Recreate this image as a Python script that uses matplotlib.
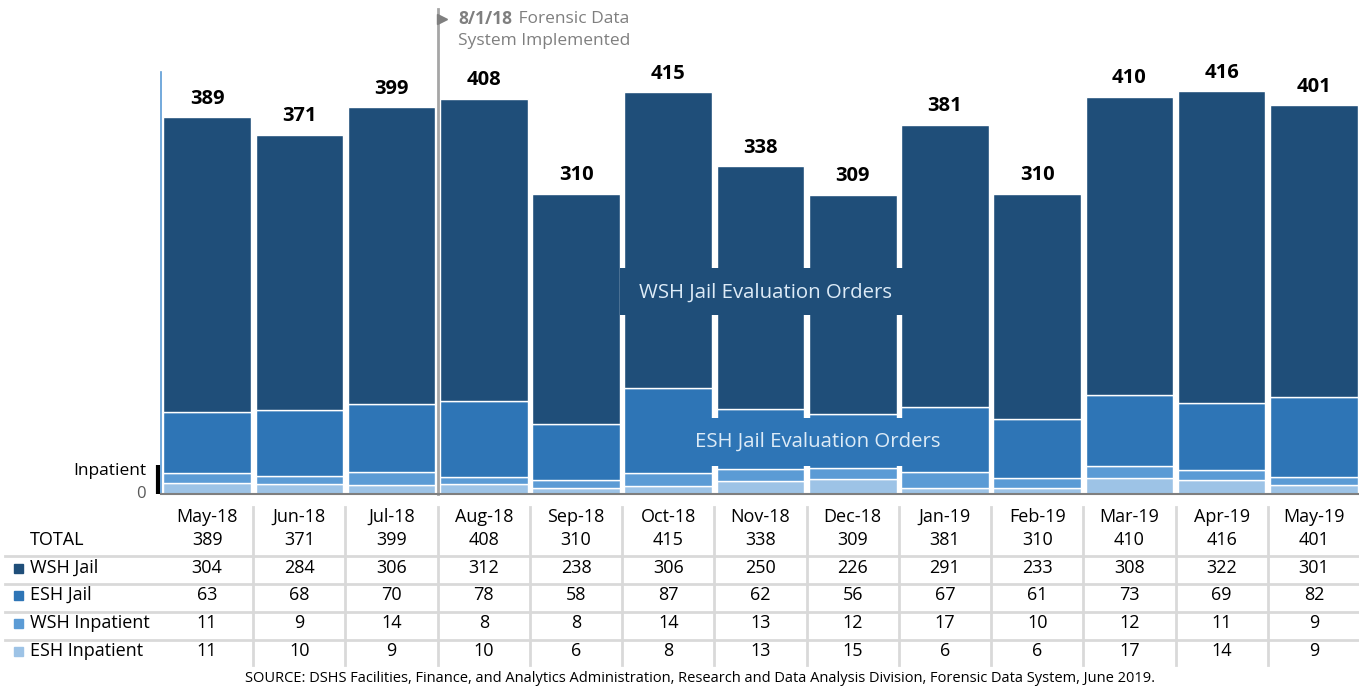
import matplotlib.pyplot as plt
import matplotlib.transforms as mtransforms
from matplotlib.lines import Line2D
from matplotlib.patches import Rectangle

plt.rcParams['font.family'] = ['Open Sans', 'DejaVu Sans']

months = ["May-18", "Jun-18", "Jul-18", "Aug-18", "Sep-18", "Oct-18", "Nov-18",
          "Dec-18", "Jan-19", "Feb-19", "Mar-19", "Apr-19", "May-19"]
wsh_jail = [304, 284, 306, 312, 238, 306, 250, 226, 291, 233, 308, 322, 301]
esh_jail = [63, 68, 70, 78, 58, 87, 62, 56, 67, 61, 73, 69, 82]
wsh_inp = [11, 9, 14, 8, 8, 14, 13, 12, 17, 10, 12, 11, 9]
esh_inp = [11, 10, 9, 10, 6, 8, 13, 15, 6, 6, 17, 14, 9]
totals = [389, 371, 399, 408, 310, 415, 338, 309, 381, 310, 410, 416, 401]

series_names = ["WSH Jail", "ESH Jail", "WSH Inpatient", "ESH Inpatient"]
series_vals = [wsh_jail, esh_jail, wsh_inp, esh_inp]
colors = ["#1F4E79", "#2E75B6", "#5B9BD5", "#9DC3E6"]

W, H = 1359, 688
fig = plt.figure(figsize=(W / 100, H / 100), dpi=100)
ax = fig.add_axes([161 / W, 1 - 494 / H, 1199 / W, 422 / H])

x = list(range(len(months)))

# stack from the bottom: ESH inpatient, WSH inpatient, ESH jail, WSH jail
bottom = [0] * len(months)
for vals, col in zip(series_vals[::-1], colors[::-1]):
    ax.bar(x, vals, bottom=bottom, width=0.95, color=col, edgecolor="white", linewidth=1)
    bottom = [b + v for b, v in zip(bottom, vals)]

for i, t in enumerate(totals):
    ax.annotate(str(t), (i, t), xytext=(0, 6), textcoords="offset points",
                ha="center", va="bottom", fontsize=14.5, fontweight="bold", color="black")

ax.set_xlim(-0.5, 12.5)
ax.set_ylim(0, 435.5)
ax.set_xticks([])
ax.set_yticks([])
for s in ["top", "right"]:
    ax.spines[s].set_visible(False)
ax.spines["left"].set_color("#5B9BD5")
ax.spines["left"].set_linewidth(1.2)
ax.spines["bottom"].set_color("#7F7F7F")
ax.spines["bottom"].set_linewidth(1.5)

# series labels inside the bars, on boxes that hide the gaps
ax.add_patch(Rectangle((4.48, 184.7), 3.08, 48.5, fc=colors[0], ec="none", zorder=3))
ax.text(6.05, 208, "WSH Jail Evaluation Orders", ha="center", va="center", fontsize=14.7,
        color="#DDEBF7", zorder=4)
ax.add_patch(Rectangle((5.21, 28.9), 2.82, 49.5, fc=colors[1], ec="none", zorder=3))
ax.text(6.62, 54, "ESH Jail Evaluation Orders", ha="center", va="center", fontsize=14.7,
        color="#DDEBF7", zorder=4)

# implementation marker
ax.plot([2.5, 2.5], [0, 500], color="#A6A6A6", lw=2, clip_on=False)
ax.plot([2.55], [490.5], marker=">", color="#7F7F7F", ms=7, clip_on=False)
ax.text(2.72, 490.5, "8/1/18", fontsize=12.5, fontweight="bold", color="#7F7F7F",
        ha="left", va="center")
ax.text(3.33, 490.5, " Forensic Data", fontsize=12.5, color="#7F7F7F", ha="left", va="center")
ax.text(2.72, 467.5, "System Implemented", fontsize=12.5, color="#7F7F7F", ha="left", va="center")

# inpatient bracket and zero label
ax.plot([-0.535, -0.535], [0, 30], color="black", lw=3, clip_on=False, solid_capstyle="butt")
ax.text(-0.66, 24, "Inpatient", ha="right", va="center", fontsize=12.5)
ax.text(-0.66, 0, "0", ha="right", va="center", fontsize=12, color="#595959")

# data table below the chart
tr = mtransforms.blended_transform_factory(ax.transData, fig.transFigure)
ypx = [517, 540, 568, 595, 623, 651]
yf = [1 - p / H for p in ypx]
for i in x:
    ax.text(i, yf[0], months[i], transform=tr, ha="center", va="center", fontsize=13)
    ax.text(i, yf[1], str(totals[i]), transform=tr, ha="center", va="center", fontsize=13)
    for r, vals in enumerate(series_vals):
        ax.text(i, yf[r + 2], str(vals[i]), transform=tr, ha="center", va="center", fontsize=13)

for k in range(12):
    ax.add_line(Line2D([k + 0.5, k + 0.5], [1 - 507 / H, 1 - 665 / H], transform=tr,
                       color="#D9D9D9", lw=2, clip_on=False))
for p in [556, 584, 612, 640]:
    fig.add_artist(Line2D([5 / W, 1], [1 - p / H, 1 - p / H], color="#D9D9D9", lw=2))

fig.text(30 / W, yf[1], "TOTAL", ha="left", va="center", fontsize=13)
for r, (name, col) in enumerate(zip(series_names, colors)):
    fig.text(30 / W, yf[r + 2], name, ha="left", va="center", fontsize=13)
    fig.add_artist(Rectangle((14 / W, yf[r + 2] - 5 / H), 9 / W, 9 / H,
                             transform=fig.transFigure, color=col))

fig.text(700 / W, 1 - 678 / H,
         "SOURCE: DSHS Facilities, Finance, and Analytics Administration, Research and Data Analysis Division, Forensic Data System, June 2019.",
         ha="center", va="center", fontsize=10.5)

fig.savefig("out.png", dpi=100)
